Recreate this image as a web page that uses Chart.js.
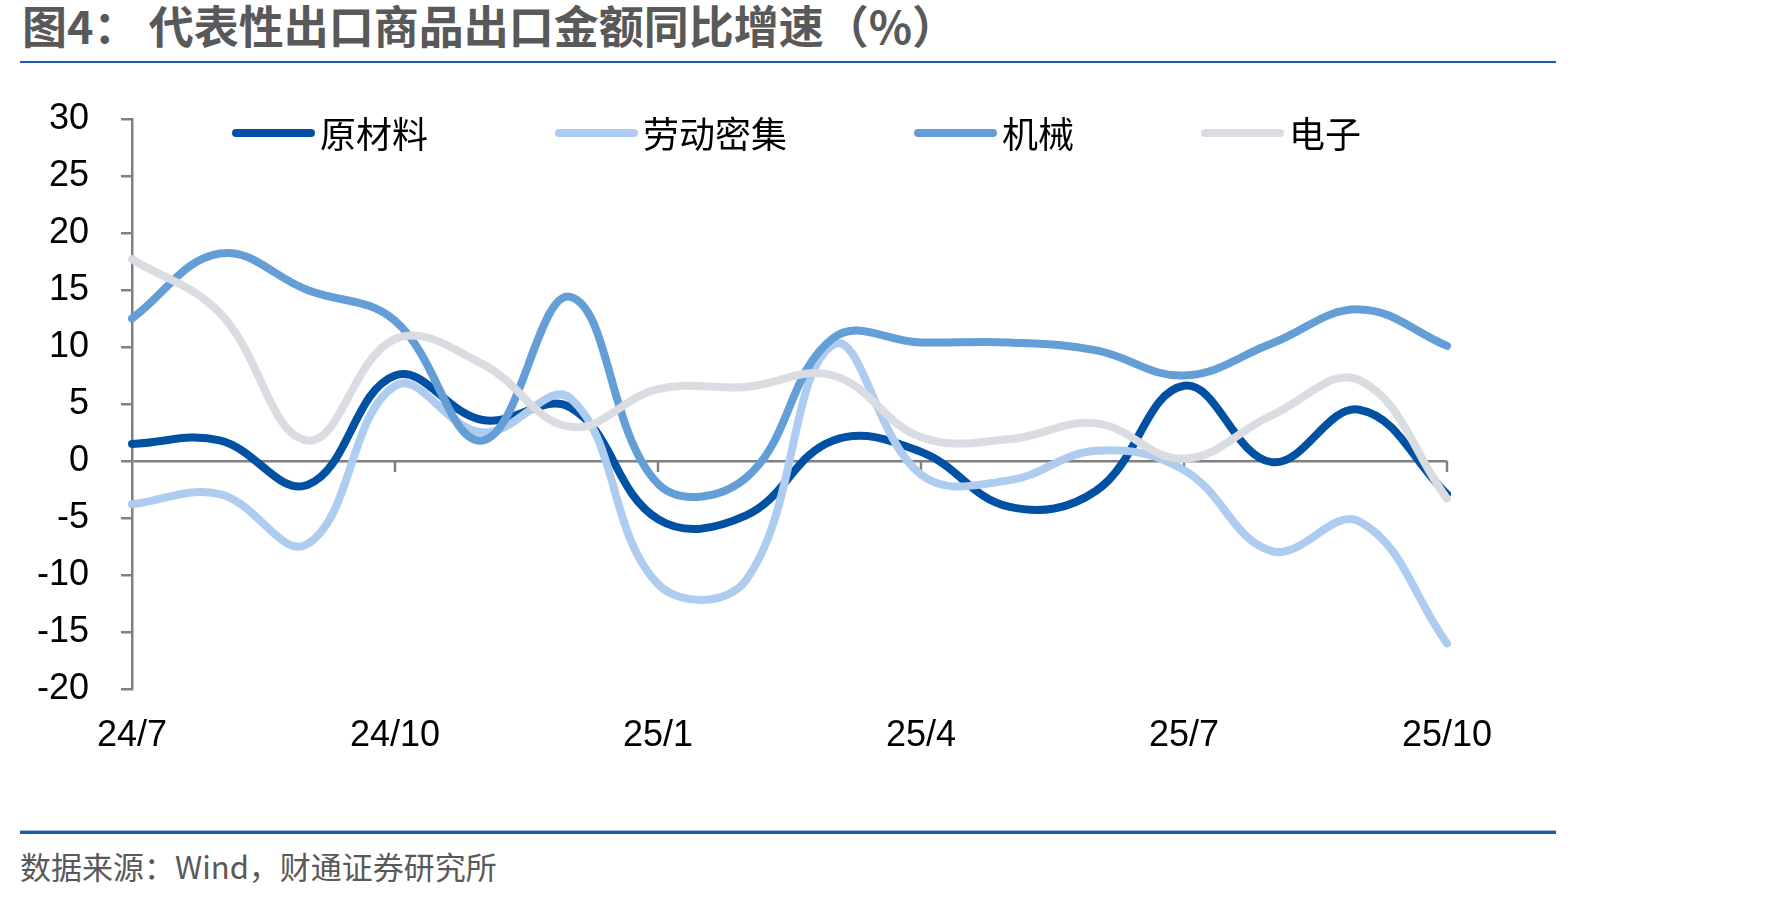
<!DOCTYPE html>
<html>
<head>
<meta charset="utf-8">
<script src="https://cdn.jsdelivr.net/npm/chart.js@4.4.0/dist/chart.umd.min.js"></script>
<style>
  body { margin: 0; background: #fff; width: 1771px; height: 898px; position: relative; overflow: hidden; }
  #title { position: absolute; left: 22px; top: -8px; font: bold 45px "Noto Sans CJK SC", sans-serif; color: #595959; white-space: nowrap; }
  .rule { position: absolute; left: 20px; width: 1536px; }
  #topRule { top: 61px; height: 2px; background: #1F5CA8; }
  #bottomRule { top: 830px; height: 3px; background: #1F5CA8; border-top: 1px solid #9DBDE3; }
  #source { position: absolute; left: 20px; top: 843px; font: 31px "Noto Sans CJK SC", sans-serif; color: #595959; white-space: nowrap; }
  #wrap { position: absolute; left: 0; top: 80px; width: 1547px; height: 679px; }
</style>
</head>
<body>
<div id="title">图4： 代表性出口商品出口金额同比增速（%）</div>
<div id="topRule" class="rule"></div>
<div id="wrap"><canvas id="chart" width="1547" height="679"></canvas></div>
<div id="bottomRule" class="rule"></div>
<div id="source">数据来源：Wind，财通证券研究所</div>
<script>
const months = ['24/7', '24/8', '24/9', '24/10', '24/11', '24/12', '25/1', '25/2',
  '25/3', '25/4', '25/5', '25/6', '25/7', '25/8', '25/9', '25/10'];

const rawMaterials = [1.5, 1.8, -2.1, 7.5, 3.6, 4.7, -5.1, -4.8, 1.8, 0.8, -4.0, -2.6, 6.6, -0.1, 4.5, -2.9];
const laborIntensive = [-3.8, -2.9, -7.3, 6.6, 2.5, 5.5, -10.8, -10.5, 10.2, -1.2, -1.7, 0.9, -0.8, -7.9, -5.3, -16.0];
const machinery = [12.5, 18.2, 15.0, 12.3, 1.8, 14.4, -2.0, -1.5, 10.8, 10.4, 10.4, 9.7, 7.5, 10.3, 13.3, 10.1];
const electronics = [17.7, 13.0, 1.8, 10.7, 8.5, 3.0, 6.3, 6.5, 7.5, 2.1, 1.9, 3.3, 0.2, 4.0, 7.1, -3.3];

const AXIS_GRAY = '#808080';

function series(label, data, color, order) {
  return {
    label, data, order,
    borderColor: color,
    backgroundColor: color,
    borderWidth: 8,
    borderCapStyle: 'round',
    borderJoinStyle: 'round',
    pointRadius: 0,
    tension: 0.4,
    fill: false
  };
}

// tick marks hanging from the zero line every 3 months
const zeroTicks = {
  id: 'zeroTicks',
  beforeDatasetsDraw(chart) {
    const { ctx, scales: { x, y } } = chart;
    const y0 = y.getPixelForValue(0);
    ctx.save();
    ctx.strokeStyle = AXIS_GRAY;
    ctx.lineWidth = 2.5;
    months.forEach((m, i) => {
      if (i === 0 || i % 3 !== 0) return;
      const px = x.getPixelForValue(i);
      ctx.beginPath();
      ctx.moveTo(px, y0);
      ctx.lineTo(px, y0 + 11);
      ctx.stroke();
    });
    ctx.restore();
  }
};

// legend drawn inside the plot, along the top
const innerLegend = {
  id: 'innerLegend',
  afterDraw(chart) {
    const { ctx, chartArea } = chart;
    const sample = 83, gap = 5, spacing = 127;
    ctx.save();
    ctx.font = '36px "Noto Sans CJK SC", sans-serif';
    ctx.textBaseline = 'middle';
    const items = chart.data.datasets.map(ds => ({ ds, w: sample + gap + ctx.measureText(ds.label).width }));
    const total = items.reduce((s, it) => s + it.w, 0) + spacing * (items.length - 1);
    let cx = (chartArea.left + chartArea.right) / 2 - total / 2 + 7;
    const cy = chartArea.top + 14;
    items.forEach(it => {
      ctx.strokeStyle = it.ds.borderColor;
      ctx.lineWidth = 8;
      ctx.lineCap = 'round';
      ctx.beginPath();
      ctx.moveTo(cx + 4, cy);
      ctx.lineTo(cx + sample - 4, cy);
      ctx.stroke();
      ctx.fillStyle = '#000';
      ctx.fillText(it.ds.label, cx + sample + gap, cy + 1);
      cx += it.w + spacing;
    });
    ctx.restore();
  }
};

new Chart(document.getElementById('chart'), {
  type: 'line',
  data: {
    labels: months,
    datasets: [
      series('原材料', rawMaterials, '#0050A4', 4),
      series('劳动密集', laborIntensive, '#AECBF0', 3),
      series('机械', machinery, '#639ED7', 2),
      series('电子', electronics, '#D9DCE0', 1)
    ]
  },
  options: {
    responsive: false,
    devicePixelRatio: 1,
    animation: false,
    layout: { padding: { top: 39, left: 0, right: 100, bottom: 0 } },
    plugins: { legend: { display: false }, tooltip: { enabled: false } },
    scales: {
      x: {
        offset: false,
        grid: { display: false, drawTicks: false },
        border: { display: false },
        ticks: {
          autoSkip: false,
          maxRotation: 0,
          padding: 25,
          color: '#000',
          font: { family: '"Liberation Sans", Arial, sans-serif', size: 36 },
          callback: (v, i) => (i % 3 === 0 ? months[i] : '')
        },
        afterFit: s => { s.height = 70; }
      },
      y: {
        min: -20,
        max: 30,
        ticks: {
          stepSize: 5,
          padding: 32,
          color: '#000',
          font: { family: '"Liberation Sans", Arial, sans-serif', size: 36 }
        },
        grid: {
          drawTicks: true,
          tickLength: 11,
          tickColor: AXIS_GRAY,
          tickWidth: 2.5,
          color: c => (c.tick && c.tick.value === 0 ? AXIS_GRAY : 'rgba(0,0,0,0)'),
          lineWidth: 2.5
        },
        border: { color: AXIS_GRAY, width: 2.5 },
        afterFit: s => { s.width = 132; s.paddingTop = 20; s.paddingBottom = 20; }
      }
    }
  },
  plugins: [zeroTicks, innerLegend]
});
</script>
</body>
</html>
